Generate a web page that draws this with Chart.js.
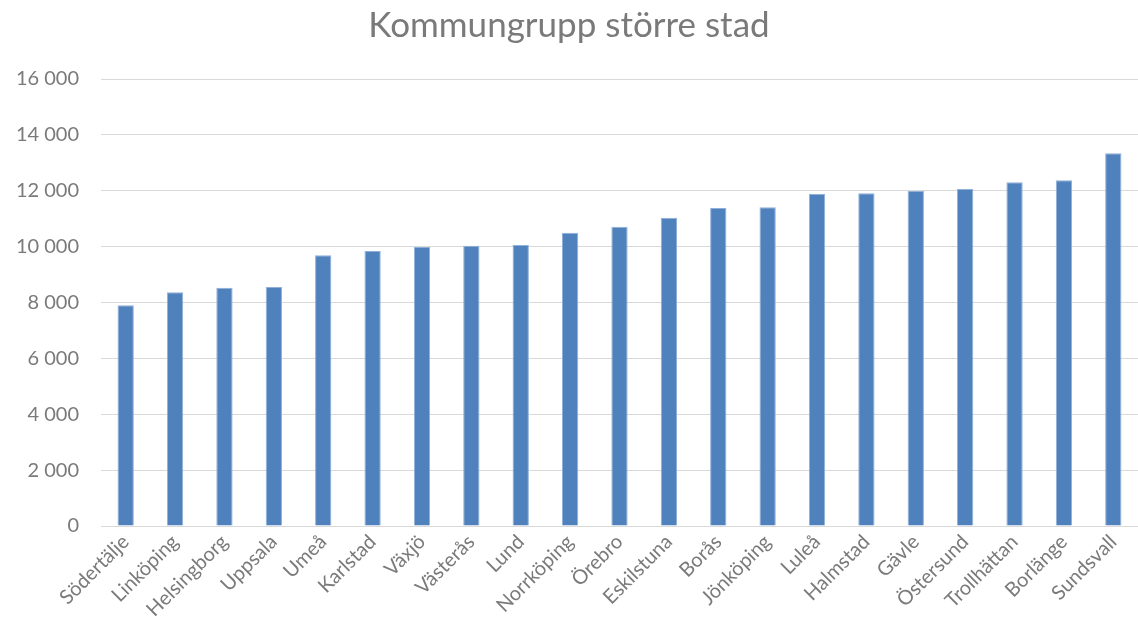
<!DOCTYPE html>
<html>
<head>
<meta charset="utf-8">
<script src="https://cdn.jsdelivr.net/npm/chart.js@4"></script>
<style>
  html, body { margin: 0; padding: 0; background: #fff; }
  #wrap { width: 1138px; height: 636px; }
</style>
</head>
<body>
<div id="wrap"><canvas id="chart"></canvas></div>
<script>
const categories = ['Södertälje', 'Linköping', 'Helsingborg', 'Uppsala', 'Umeå', 'Karlstad', 'Växjö',
    'Västerås', 'Lund', 'Norrköping', 'Örebro', 'Eskilstuna', 'Borås', 'Jönköping', 'Luleå',
    'Halmstad', 'Gävle', 'Östersund', 'Trollhättan', 'Borlänge', 'Sundsvall'];
const values = [7900, 8365, 8530, 8555, 9690, 9845, 9985, 10035, 10055, 10500, 10715,
    11035, 11385, 11405, 11885, 11910, 11990, 12060, 12300, 12375, 13340];
const yTicks = [0, 2000, 4000, 6000, 8000, 10000, 12000, 14000, 16000];

const textColor = '#7a7a7a';
const fontFamily = 'Lato, "Open Sans", sans-serif';

function fmt(v) {
    return String(v).replace(/\B(?=(\d{3})+(?!\d))/g, ' ');
}

document.addEventListener('DOMContentLoaded', function() {
    const ctx = document.getElementById('chart').getContext('2d');
    new Chart(ctx, {
        type: 'bar',
        data: {
            labels: categories,
            datasets: [{
                data: values,
                backgroundColor: '#4f81bd',
                borderColor: '#8fb0d8',
                borderWidth: { left: 1, right: 1, top: 1, bottom: 0 },
                barPercentage: 0.33,
                categoryPercentage: 1
            }]
        },
        options: {
            responsive: true,
            maintainAspectRatio: false,
            animation: false,
            layout: { padding: { left: 0, right: 0, top: 0, bottom: 0 } },
            plugins: {
                legend: { display: false },
                tooltip: { enabled: false },
                title: {
                    display: true,
                    text: 'Kommungrupp större stad',
                    color: textColor,
                    font: { family: fontFamily, size: 35, weight: 'normal' },
                    padding: { top: 5, bottom: 32 }
                }
            },
            scales: {
                x: {
                    grid: { display: false, drawTicks: false },
                    border: { display: true, color: '#d9d9d9', width: 1 },
                    ticks: {
                        color: textColor,
                        font: { family: fontFamily, size: 20 },
                        maxRotation: 45,
                        minRotation: 45,
                        autoSkip: false,
                        padding: 4
                    },
                    afterFit: function(scale) { scale.height = 110; }
                },
                y: {
                    min: 0,
                    max: 16000,
                    afterBuildTicks: function(scale) {
                        scale.ticks = yTicks.map(v => ({ value: v }));
                    },
                    grid: { color: '#d9d9d9', lineWidth: 1, drawTicks: false },
                    border: { display: false },
                    ticks: {
                        color: textColor,
                        font: { family: fontFamily, size: 20 },
                        padding: 22,
                        callback: function(v) { return fmt(v); }
                    },
                    afterFit: function(scale) { scale.width = 101; }
                }
            }
        }
    });
});
</script>
</body>
</html>
